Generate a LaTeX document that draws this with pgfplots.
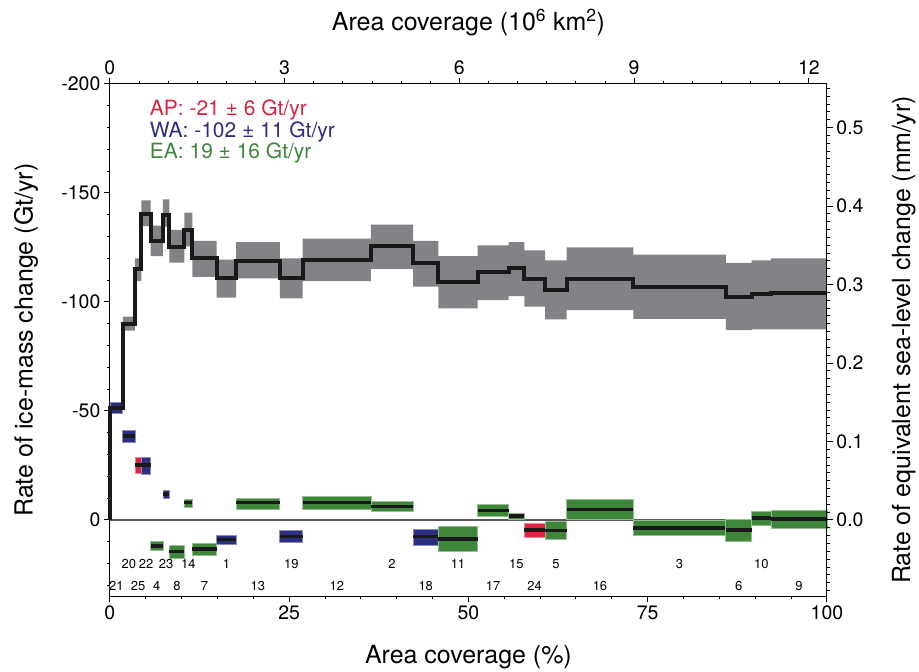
\documentclass[border=0pt]{standalone}
\usepackage{fontspec}
\setmainfont{TeX Gyre Heros}
\usepackage{pgfplots}
\usepackage{pgfplotstable}
\usepgfplotslibrary{fillbetween}
\pgfplotsset{compat=1.18}

\definecolor{apred}{RGB}{218,36,64}
\definecolor{wablue}{RGB}{44,46,130}
\definecolor{eagreen}{RGB}{62,134,58}
\definecolor{bandgray}{RGB}{130,131,135}

% cumulative rate: segment start (% area), value, band low/high (Gt/yr)
\pgfplotstableread{
x     mid     lo      hi
0     0       -54     -48.7
0     -51.3   -54     -48.7
1.8   -89.7   -93.2   -86.8
3.5   -115    -120    -109.5
4.4   -140.4  -146.6  -134.7
5.7   -128    -135    -121
7.4   -140    -147    -134.5
8.3   -125    -133    -118
10.4  -133    -141    -125.5
11.5  -120    -128    -111.5
14.9  -110.8  -119.4  -102
17.6  -118.7  -127.4  -110.8
23.7  -110.8  -120    -101.6
26.9  -119    -129    -109.5
36.4  -125.6  -135.5  -115
42.3  -118    -128    -107
45.8  -109    -121    -97
51.3  -113.6  -125.9  -100.8
55.6  -115.6  -127.4  -102.7
57.8  -110.6  -123.6  -97.8
60.7  -105.4  -119    -92
63.7  -110.6  -125    -96.2
73.0  -107    -121.7  -92.2
85.9  -102.4  -117.9  -87
89.5  -103.4  -119    -87.4
92.2  -103.9  -120    -87.4
100   -103.9  -120    -87.4
}\cumtab

% basin numbers below the zero line
\pgfplotstableread{
x      y     lab
0.9    30.2  21
2.65   20.1  20
3.95   30.2  25
5.05   20.1  22
6.55   30.2  4
7.85   20.1  23
9.35   30.2  8
10.95  20.1  14
13.2   30.2  7
16.25  20.1  1
20.65  30.2  13
25.3   20.1  19
31.65  30.2  12
39.35  20.1  2
44.05  30.2  18
48.55  20.1  11
53.45  30.2  17
56.7   20.1  15
59.25  30.2  24
62.2   20.1  5
68.35  30.2  16
79.45  20.1  3
87.7   30.2  6
90.85  20.1  10
96.1   30.2  9
}\labtab

% x0 x1 lo value hi colour
\newcommand{\basin}[6]{%
  \addplot[fill=#6, draw=#6!55!white, line width=0.7pt] coordinates {(#1,#3) (#2,#3) (#2,#5) (#1,#5)} -- cycle;
  \addplot[black!90, line width=3.6pt] coordinates {(#1,#4) (#2,#4)};
}

\pgfplotsset{
  common/.style={
    width=718pt, height=513pt, scale only axis, clip=false,
    tick align=outside, major tick length=6pt, minor tick length=3pt,
    every tick/.style={black, line width=0.9pt},
    axis line style={line width=1.1pt},
    tick label style={font=\fontsize{19.5}{22}\selectfont},
    label style={font=\fontsize{25}{29}\selectfont},
    /pgf/number format/assume math mode=true,
  }
}

\begin{document}
\begin{tikzpicture}
\begin{axis}[common,
  axis x line*=bottom, axis y line*=left,
  xmin=0, xmax=100, ymin=-200, ymax=35, y dir=reverse,
  xtick={0,25,50,75,100}, minor xtick={5,10,...,95},
  ytick={-200,-150,-100,-50,0}, minor ytick={-190,-180,...,30},
  xlabel={Area coverage (\%)},
  ylabel={Rate of ice-mass change (Gt/yr)},
  xlabel style={at={(axis description cs:0.5,0)}, anchor=base, yshift=-67pt},
  ylabel style={at={(axis description cs:0,0.5)}, anchor=center, rotate=0, yshift=84pt},
]
\addplot[name path=hi, const plot, draw=none] table[x=x, y=hi] {\cumtab};
\addplot[name path=lo, const plot, draw=none] table[x=x, y=lo] {\cumtab};
\addplot[bandgray] fill between[of=hi and lo];

\addplot[black!65, line width=1.3pt] coordinates {(0,0) (100,0)};

\basin{0}{1.8}{-54}{-51.3}{-48.7}{wablue}
\basin{1.8}{3.5}{-41}{-38.4}{-35.5}{wablue}
\basin{3.5}{4.4}{-28.7}{-25.2}{-21.5}{apred}
\basin{4.4}{5.7}{-28.7}{-25.2}{-20.9}{wablue}
\basin{5.7}{7.4}{9.9}{11.9}{14}{eagreen}
\basin{7.4}{8.3}{-13.7}{-12}{-9.9}{wablue}
\basin{8.3}{10.4}{11.7}{14.5}{17.5}{eagreen}
\basin{10.4}{11.5}{-9.6}{-7.9}{-5.8}{eagreen}
\basin{11.5}{14.9}{10.7}{13.3}{16.3}{eagreen}
\basin{14.9}{17.6}{6.9}{9}{11}{wablue}
\basin{17.6}{23.7}{-10}{-7.9}{-5}{eagreen}
\basin{23.7}{26.9}{4.9}{7.6}{10.5}{wablue}
\basin{26.9}{36.4}{-10.8}{-8}{-5}{eagreen}
\basin{36.4}{42.3}{-8.5}{-6.2}{-3.8}{eagreen}
\basin{42.3}{45.8}{4.1}{7.6}{11.7}{wablue}
\basin{45.8}{51.3}{2.9}{8.7}{14.3}{eagreen}
\basin{51.3}{55.6}{-7.3}{-4.3}{-1.5}{eagreen}
\basin{55.6}{57.8}{-3}{-1.7}{-0.1}{eagreen}
\basin{57.8}{60.7}{1.4}{4.6}{7.9}{apred}
\basin{60.7}{63.7}{0.8}{4.9}{9}{eagreen}
\basin{63.7}{73}{-9.3}{-4.7}{-0.1}{eagreen}
\basin{73}{85.9}{0.3}{3.7}{7.2}{eagreen}
\basin{85.9}{89.5}{-0.1}{4.6}{9.9}{eagreen}
\basin{89.5}{92.2}{-3.8}{-0.9}{2.6}{eagreen}
\basin{92.2}{100}{-4.6}{-0.4}{3.8}{eagreen}

\addplot[black!90, line width=4pt, const plot] table[x=x, y=mid] {\cumtab};

\addplot[draw=none, mark=none, nodes near coords, point meta=explicit symbolic,
  nodes near coords style={anchor=center, inner sep=0pt, font=\fontsize{13}{15}\selectfont}]
  table[x=x, y=y, meta=lab] {\labtab};

\node[anchor=base west, text=apred, font=\fontsize{21}{24}\selectfont] at (axis cs:5.1,-185.4) {AP: -21 ± 6 Gt/yr};
\node[anchor=base west, text=wablue, font=\fontsize{21}{24}\selectfont] at (axis cs:5.1,-175.2) {WA: -102 ± 11 Gt/yr};
\node[anchor=base west, text=eagreen, font=\fontsize{21}{24}\selectfont] at (axis cs:5.1,-165.6) {EA: 19 ± 16 Gt/yr};
\end{axis}

\begin{axis}[common,
  axis x line*=top, axis y line*=right,
  xmin=0, xmax=12.31, ymin=-0.0972, ymax=0.5556,
  xtick={0,3,6,9,12}, minor xtick={0.5,1,...,12},
  ytick={0,0.1,0.2,0.3,0.4,0.5}, minor ytick={-0.09,-0.08,...,0.55},
  yticklabel style={/pgf/number format/.cd, fixed, fixed zerofill, precision=1},
  xlabel={Area coverage (10\textsuperscript{6} km\textsuperscript{2})},
  ylabel={Rate of equivalent sea-level change (mm/yr)},
  xlabel style={at={(axis description cs:0.5,1)}, anchor=base, yshift=53pt},
  ylabel style={at={(axis description cs:1,0.5)}, anchor=center, rotate=0, yshift=-77pt},
]
\addplot[draw=none] coordinates {(0,0)};
\end{axis}
\path (-110pt,-74pt) rectangle (809pt,597pt);
\end{tikzpicture}
\end{document}
